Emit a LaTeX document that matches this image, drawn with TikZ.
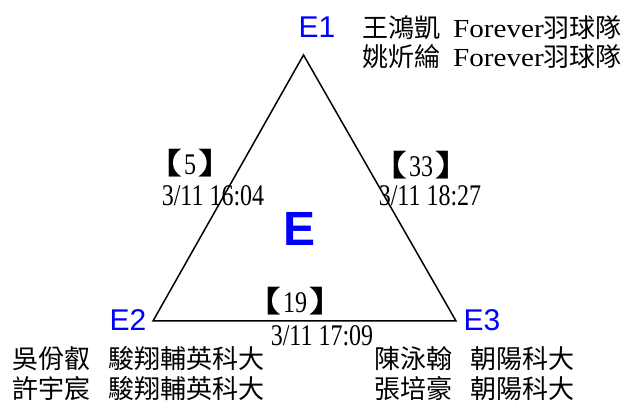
\documentclass[tikz,border=0pt]{standalone}
\usepackage{fontspec}
\usepackage{graphicx}
\setmainfont{Liberation Serif}
\newfontfamily\cjk{Noto Sans CJK TC}
\newfontfamily\serifn[FakeStretch=0.8]{Liberation Serif}
\newfontfamily\serifw[FakeStretch=1.12]{Liberation Serif}
\newfontfamily\arialf{Liberation Sans}
\definecolor{vblue}{RGB}{0,0,255}
\tikzset{
  vlabel/.style={text=vblue, font=\arialf\fontsize{30}{34}\selectfont, inner sep=0pt},
  biglabel/.style={text=vblue, font=\arialf\bfseries\fontsize{48}{52}\selectfont, inner sep=0pt},
  team/.style={anchor=base west, inner sep=0pt, font=\fontsize{26}{30}\selectfont},
  count/.style={anchor=base, inner sep=0pt, font=\fontsize{26}{30}\selectfont},
  stamp/.style={anchor=base, inner sep=0pt, font=\serifn\fontsize{30}{32}\selectfont},
  edge/.style={line width=1.5pt, line join=miter}
}
\newcommand{\cj}[1]{{\cjk #1}}
\newcommand{\lt}[1]{{\serifw #1}}
\newcommand{\cnt}[1]{\scalebox{1.6}[1.15]{\cj{【}}\hspace{1pt}{\serifn\fontsize{30}{32}\selectfont #1}\hspace{1pt}\scalebox{1.6}[1.15]{\cj{】}}}
\begin{document}
\begin{tikzpicture}[x=1pt,y=-1pt]
\useasboundingbox (0,0) rectangle (632,403);
\coordinate (A) at (303.5,55);
\coordinate (B) at (153,321);
\coordinate (C) at (456,321);
\draw[edge] (A) -- (B) -- (C) -- cycle;

\node[vlabel] (e1) at (317,27) {E1};
\node[vlabel] (e2) at (128,320) {E2};
\node[vlabel] (e3) at (482,320) {E3};
\node[biglabel] (e) at (300,229) {E};

\node[team] (t1) at (362,38) {\cj{王鴻凱}\hspace{13pt}\lt{Forever}\cj{羽球隊}};
\node[team] (t2) at (362,67) {\cj{姚炘綸}\hspace{13pt}\lt{Forever}\cj{羽球隊}};
\node[team] (t3) at (12,368) {\cj{吳佾叡}\hspace{18pt}\cj{駿翔輔英科大}};
\node[team] (t4) at (12,398) {\cj{許宇宸}\hspace{18pt}\cj{駿翔輔英科大}};
\node[team] (t5) at (374,368) {\cj{陳泳翰}\hspace{18pt}\cj{朝陽科大}};
\node[team] (t6) at (374,398) {\cj{張培豪}\hspace{18pt}\cj{朝陽科大}};

\node[count] (c12) at (190,175) {\cnt{5}};
\node[stamp] (s12) at (213,206) {3/11 16:04};
\node[count] (c13) at (421,177) {\cnt{33}};
\node[stamp] (s13) at (430,206) {3/11 18:27};
\node[count] (c23) at (295,313) {\cnt{19}};
\node[stamp] (s23) at (322,345) {3/11 17:09};
\end{tikzpicture}
\end{document}
